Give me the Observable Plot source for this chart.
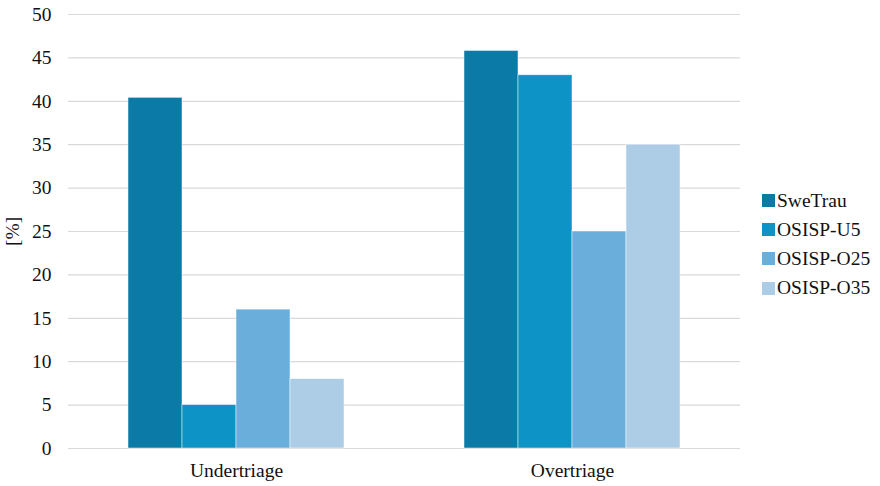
<!DOCTYPE html>
<html>
<head>
<meta charset="utf-8">
<script src="https://cdn.jsdelivr.net/npm/d3@7"></script>
<script src="https://cdn.jsdelivr.net/npm/@observablehq/plot@0.6"></script>
<style>
  html, body { margin: 0; padding: 0; background: #fff; }
  #wrap { position: relative; width: 880px; height: 486px; font-family: "Liberation Serif", "Times New Roman", serif; }
  #wrap svg text { font-family: "Liberation Serif", "Times New Roman", serif; }
  #legend { position: absolute; left: 762px; top: 186px; font-size: 19.5px; color: #111; }
  #legend .item { display: flex; align-items: center; height: 29.2px; }
  #legend .sw { width: 13px; height: 13px; margin-right: 2px; }
</style>
</head>
<body>
<div id="wrap"></div>
<script>
// Triage categories and the four scoring systems compared
const categories = ["Undertriage", "Overtriage"];
const systems = ["SweTrau", "OSISP-U5", "OSISP-O25", "OSISP-O35"];
const colors = ["#0b7aa6", "#0e93c6", "#6aafdc", "#adcde7"];

// Percentages per system, ordered as in `categories`
const sweTrau = [40.4, 45.8];
const osispU5 = [5, 43];
const osispO25 = [16, 25];
const osispO35 = [8, 35];

const yTicks = [0, 5, 10, 15, 20, 25, 30, 35, 40, 45, 50];

const seriesValues = [sweTrau, osispU5, osispO25, osispO35];
const rows = [];
categories.forEach((cat, ci) => {
  systems.forEach((sys, si) => {
    rows.push({ category: cat, system: sys, value: seriesValues[si][ci] });
  });
});

const serif = "'Liberation Serif', 'Times New Roman', serif";

const chart = Plot.plot({
  width: 880,
  height: 486,
  marginLeft: 68,
  marginRight: 140,
  marginTop: 14,
  marginBottom: 38,
  style: "font-family: 'Liberation Serif', 'Times New Roman', serif; font-size: 19.5px; color: #111; background: #fff;",
  fx: { domain: categories, padding: 0, label: null },
  x: { domain: systems, paddingInner: 0, paddingOuter: 1.1, axis: null },
  y: { domain: [0, 50], label: null },
  color: { domain: systems, range: colors },
  marks: [
    Plot.gridY(yTicks, { stroke: "#d9d9d9", strokeOpacity: 1, strokeWidth: 1.2 }),
    Plot.axisY(yTicks, { tickSize: 0, tickPadding: 17, fontFamily: serif, label: "[%]", labelAnchor: "center", labelArrow: "none", labelOffset: 63 }),
    Plot.axisFx({ anchor: "bottom", tickSize: 0, tickPadding: 15, fontFamily: serif, label: null }),
    Plot.barY(rows, { fx: "category", x: "system", y: "value", fill: "system", stroke: "#ffffff", strokeOpacity: 0.6, strokeWidth: 0.8 })
  ]
});

const wrap = document.getElementById("wrap");
wrap.appendChild(chart);

// Vertical swatch legend on the right, driven by the chart's color scale
const colorScale = chart.scale("color");
const legend = document.createElement("div");
legend.id = "legend";
colorScale.domain.forEach((name, i) => {
  const item = document.createElement("div");
  item.className = "item";
  const sw = document.createElement("span");
  sw.className = "sw";
  sw.style.background = colorScale.range[i];
  const label = document.createElement("span");
  label.textContent = name;
  item.appendChild(sw);
  item.appendChild(label);
  legend.appendChild(item);
});
wrap.appendChild(legend);
</script>
</body>
</html>
